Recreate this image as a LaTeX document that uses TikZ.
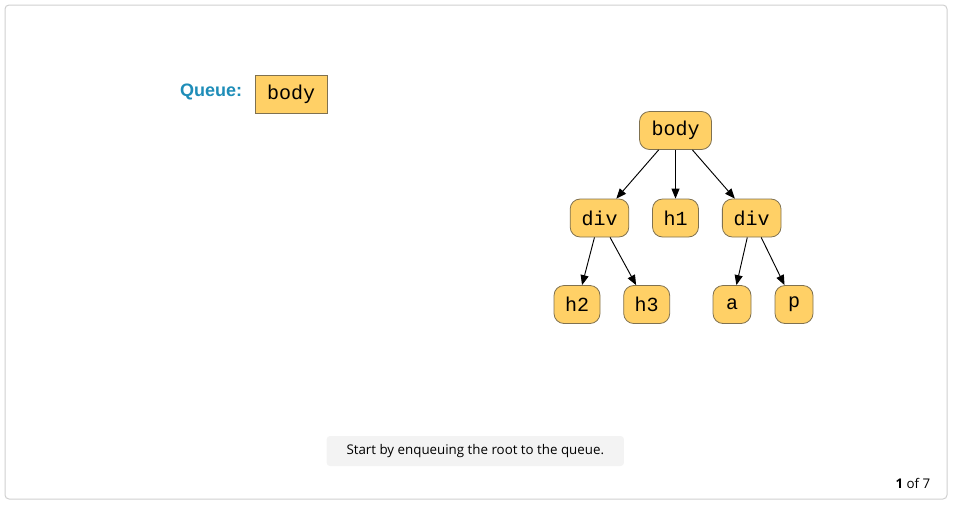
\documentclass[tikz,border=0pt]{standalone}
\usepackage{fontspec}
\setmainfont{Liberation Sans}
\newfontfamily\monof{Liberation Mono}
\newfontfamily\capf{Open Sans}
\usetikzlibrary{arrows.meta}
\definecolor{nodefill}{HTML}{FFD066}
\definecolor{nodeline}{HTML}{7F7150}
\definecolor{qblue}{HTML}{1E8DB8}
\definecolor{frameline}{HTML}{CFCFCF}
\definecolor{capfill}{HTML}{F3F3F3}
\begin{document}
\begin{tikzpicture}[x=0.75pt,y=-0.75pt,
  treenode/.style={draw=nodeline,fill=nodefill,rounded corners=7.5pt,line width=0.6pt,
    minimum height=28.5pt,inner sep=0pt,font=\monof\fontsize{15}{18}\selectfont},
  qnode/.style={draw=nodeline,fill=nodefill,line width=0.6pt,minimum width=54pt,
    minimum height=28.5pt,inner sep=0pt,font=\monof\fontsize{15}{18}\selectfont},
  edge/.style={-{Triangle[length=7.5pt,width=6pt]},line width=0.7pt,black}]
\useasboundingbox (0,0) rectangle (953,508);
\draw[frameline,line width=0.75pt,rounded corners=3pt] (5,5) rectangle (947,499);
% queue
\node[font=\bfseries\fontsize{13.5}{15}\selectfont,text=qblue,anchor=east,inner sep=0pt] (ql) at (242.5,92) {Queue:};
\node[qnode] (q1) at (291,94.5) {body};
% tree
\node[treenode,minimum width=54pt] (body) at (675.5,130.5) {body};
\node[treenode,minimum width=44pt] (div1) at (599.5,218) {div};
\node[treenode,minimum width=34.5pt] (h1) at (675.5,218) {h1};
\node[treenode,minimum width=44pt] (div2) at (751.7,218) {div};
\node[treenode,minimum width=34.5pt] (h2) at (577,304.5) {h2};
\node[treenode,minimum width=34.5pt] (h3) at (646.7,304.5) {h3};
\node[treenode,minimum width=28.5pt] (a) at (732,304.5) {a};
\node[treenode,minimum width=28.5pt] (p) at (794,304.5) {p};
\draw[edge] (body) -- (div1);
\draw[edge] (body) -- (h1);
\draw[edge] (body) -- (div2);
\draw[edge] (div1) -- (h2);
\draw[edge] (div1) -- (h3);
\draw[edge] (div2) -- (a);
\draw[edge] (div2) -- (p);
% caption
\node[fill=capfill,rounded corners=2.5pt,minimum width=223pt,minimum height=22.5pt,inner sep=0pt,
  font=\capf\fontsize{10}{12}\selectfont] (cap) at (475.3,451) {Start by enqueuing the root to the queue.};
\node[anchor=east,inner sep=0pt,font=\capf\fontsize{10}{12}\selectfont] (pg) at (930.5,483) {\textbf{1} of 7};
\end{tikzpicture}
\end{document}
